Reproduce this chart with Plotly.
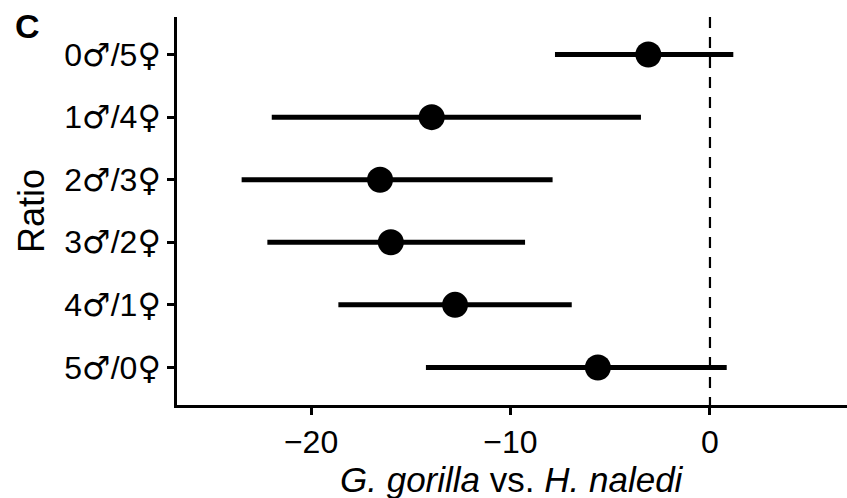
import plotly.graph_objects as go

ratios = ["0♂/5♀", "1♂/4♀", "2♂/3♀", "3♂/2♀", "4♂/1♀", "5♂/0♀"]
estimate = [-3.09, -13.95, -16.54, -16.00, -12.78, -5.62]
lower = [-7.77, -21.97, -23.48, -22.19, -18.63, -14.24]
upper = [1.17, -3.46, -7.89, -9.27, -6.93, 0.84]

FONT = "Liberation Sans, Arial, DejaVu Sans, sans-serif"
SYM = "<span style=\"font-family:'DejaVu Sans'\">{}</span>"

def style_label(s):
    return "".join(SYM.format(c) if c in "♂♀" else c for c in s)

ticktext_y = [style_label(r) for r in ratios]

err_plus = [u - e for u, e in zip(upper, estimate)]
err_minus = [e - l for e, l in zip(estimate, lower)]

fig = go.Figure()
fig.add_trace(go.Scatter(
    x=estimate, y=ratios, mode="markers",
    marker=dict(size=26, color="black"),
    error_x=dict(type="data", array=err_plus, arrayminus=err_minus,
                 thickness=5, width=0, color="black"),
    showlegend=False, hoverinfo="x+y",
))

fig.add_shape(type="line", xref="x", yref="paper", x0=0, x1=0, y0=1, y1=0,
              line=dict(color="black", width=2.2, dash="11px,9px"), layer="below")

W, H = 847, 498
ml, mr, mt, mb = 177, 0, 17, 93
pw, ph = W - ml - mr, H - mt - mb

def px_x(x):
    return (x - ml) / pw

def px_y(y):
    return 1 - (y - mt) / ph

fig.update_layout(
    width=W, height=H,
    margin=dict(l=ml, r=mr, t=mt, b=mb, pad=0),
    plot_bgcolor="white", paper_bgcolor="white",
    font=dict(family=FONT, color="black"),
    xaxis=dict(range=[-26.72, 6.87], tickvals=[-20, -10, 0],
               ticktext=["−20", "−10", "0"],
               showgrid=False, zeroline=False, showline=True,
               linecolor="black", linewidth=2.5,
               ticks="outside", ticklen=7, tickwidth=2.5, tickcolor="black",
               tickfont=dict(size=32, family=FONT, color="black")),
    yaxis=dict(type="category", categoryarray=ratios, range=[5.6, -0.6],
               tickvals=ratios, ticktext=ticktext_y,
               showgrid=False, zeroline=False, showline=True,
               linecolor="black", linewidth=2.5,
               ticks="outside", ticklen=7, tickwidth=2.5, tickcolor="black",
               tickfont=dict(size=32, family=FONT, color="black")),
    annotations=[
        dict(text="<b>C</b>", xref="paper", yref="paper", x=px_x(27), y=px_y(26),
             xanchor="center", yanchor="middle", showarrow=False,
             font=dict(size=34, family=FONT, color="black")),
        dict(text="Ratio", xref="paper", yref="paper", x=px_x(31), y=px_y(211),
             xanchor="center", yanchor="middle", textangle=-90, showarrow=False,
             font=dict(size=36, family=FONT, color="black")),
        dict(text="<i>G. gorilla</i> vs. <i>H. naledi</i>", xref="paper", yref="paper",
             x=px_x(512), y=px_y(479), xanchor="center", yanchor="middle",
             showarrow=False, font=dict(size=35, family=FONT, color="black")),
    ],
)

fig.write_html("out.html")
